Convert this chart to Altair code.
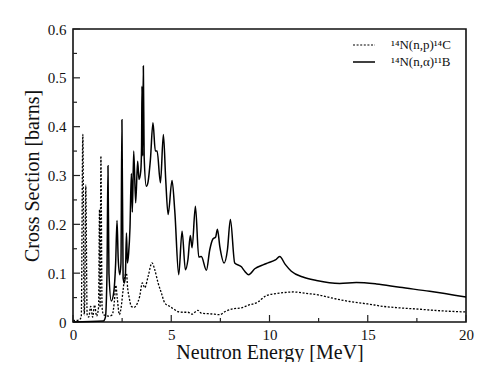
import altair as alt
import pandas as pd

# 14N(n,p)14C  (dotted)
np_energy = [0, 0.3, 0.42, 0.5, 0.57, 0.6, 0.65, 0.72, 0.8, 0.9, 1.0, 1.1, 1.2, 1.3, 1.35, 1.38, 1.42, 1.48,
             1.55, 1.7, 1.85, 2.0, 2.1, 2.18, 2.25, 2.36, 2.45, 2.55, 2.65, 2.72, 2.78, 2.85, 2.97, 3.1, 3.22,
             3.39, 3.53, 3.65, 3.82, 4.02, 4.16, 4.33, 4.5, 4.67, 4.92, 5.18, 5.35, 5.6, 5.85, 6.06, 6.2, 6.36,
             6.53, 6.87, 7.2, 7.47, 7.72, 8.14, 8.57, 8.9, 9.41, 9.84, 10.5, 11.2, 12.0, 12.55, 13.3, 14.08,
             15.0, 15.78, 16.6, 17.48, 18.7, 20.0]
np_sigma = [0.003, 0.004, 0.01, 0.384, 0.015, 0.05, 0.28, 0.015, 0.01, 0.032, 0.01, 0.035, 0.012, 0.03, 0.23,
            0.03, 0.34, 0.03, 0.015, 0.013, 0.012, 0.015, 0.04, 0.075, 0.05, 0.015, 0.03, 0.066, 0.095, 0.1,
            0.07, 0.052, 0.032, 0.03, 0.034, 0.052, 0.08, 0.07, 0.093, 0.121, 0.107, 0.08, 0.059, 0.039, 0.032,
            0.025, 0.021, 0.02, 0.02, 0.016, 0.02, 0.024, 0.018, 0.017, 0.016, 0.015, 0.021, 0.027, 0.029,
            0.034, 0.041, 0.054, 0.059, 0.0615, 0.058, 0.055, 0.048, 0.042, 0.037, 0.032, 0.029, 0.0266,
            0.023, 0.0205]

# 14N(n,alpha)11B  (solid)
na_energy = [0, 1.55, 1.65, 1.73, 1.78, 1.83, 1.95, 2.08, 2.17, 2.24, 2.3, 2.38, 2.44, 2.49, 2.55, 2.62, 2.67,
             2.72, 2.77, 2.83, 2.9, 2.97, 3.02, 3.09, 3.19, 3.29, 3.36, 3.45, 3.49, 3.51, 3.54, 3.58, 3.62,
             3.73, 3.81, 3.94, 4.07, 4.19, 4.28, 4.45, 4.6, 4.72, 4.84, 5.04, 5.18, 5.38, 5.55, 5.72, 5.85,
             5.97, 6.06, 6.23, 6.4, 6.53, 6.79, 6.96, 7.12, 7.26, 7.35, 7.47, 7.69, 7.86, 8.01, 8.23, 8.57,
             8.74, 8.94, 9.25, 9.67, 9.92, 10.3, 10.52, 10.8, 11.11, 11.7, 12.39, 13.57, 14.42, 15.44, 16.63,
             18.15, 20.0]
na_sigma = [0, 0.002, 0.01, 0.1, 0.32, 0.1, 0.043, 0.063, 0.12, 0.208, 0.13, 0.097, 0.12, 0.414, 0.09, 0.08,
            0.1, 0.182, 0.121, 0.14, 0.193, 0.304, 0.225, 0.35, 0.244, 0.329, 0.292, 0.31, 0.36, 0.483, 0.34,
            0.524, 0.34, 0.278, 0.285, 0.333, 0.408, 0.35, 0.35, 0.285, 0.384, 0.29, 0.22, 0.29, 0.227, 0.097,
            0.186, 0.107, 0.128, 0.177, 0.152, 0.237, 0.133, 0.134, 0.106, 0.148, 0.17, 0.174, 0.19, 0.155,
            0.121, 0.148, 0.21, 0.121, 0.113, 0.104, 0.097, 0.109, 0.117, 0.121, 0.127, 0.134, 0.118, 0.104,
            0.092, 0.085, 0.079, 0.081, 0.078, 0.071, 0.063, 0.051]

x_major = [0, 5, 10, 15, 20]
x_minor = [2.5, 7.5, 12.5, 17.5]
y_major = [0.1, 0.2, 0.3, 0.4, 0.5, 0.6]
y_minor = [0.05, 0.15, 0.25, 0.35, 0.45, 0.55]
legend_labels = ["\u00b9\u2074N(n,p)\u00b9\u2074C", "\u00b9\u2074N(n,\u03b1)\u00b9\u00b9B"]

W, H = 393, 293
FONT = "Liberation Serif"

df_np = pd.DataFrame({"E": np_energy, "s": np_sigma})
df_na = pd.DataFrame({"E": na_energy, "s": na_sigma})

xs = alt.Scale(domain=[0, 20], nice=False)
ys = alt.Scale(domain=[0, 0.6], nice=False)

x_axis = alt.Axis(values=x_major, title="Neutron Energy [MeV]", ticks=False, domain=False, grid=False,
                  labelFlush=False, labelPadding=5, titlePadding=0, labelFontSize=15, titleFontSize=20)
y_axis = alt.Axis(values=[0] + y_major, title="Cross Section [barns]", ticks=False, domain=False, grid=False,
                  labelFlush=False, labelPadding=7, titlePadding=5, labelFontSize=15, titleFontSize=20,
                  labelExpr="datum.value == 0 ? '0' : format(datum.value, '.1f')")

line_np = alt.Chart(df_np).mark_line(color="black", strokeWidth=1.3, strokeDash=[2, 1.6],
                                     interpolate="monotone").encode(
    x=alt.X("E:Q", scale=xs, axis=x_axis),
    y=alt.Y("s:Q", scale=ys, axis=y_axis),
)
line_na = alt.Chart(df_na).mark_line(color="black", strokeWidth=1.5, interpolate="monotone").encode(
    x=alt.X("E:Q", scale=xs),
    y=alt.Y("s:Q", scale=ys),
)

def xticks(vals, length):
    return alt.Chart(pd.DataFrame({"t": vals})).mark_rule(color="#222", strokeWidth=1.2).encode(
        x=alt.X("t:Q", scale=xs), y=alt.value(H), y2=alt.value(H - length))

def yticks(vals, length):
    return alt.Chart(pd.DataFrame({"t": vals})).mark_rule(color="#222", strokeWidth=1.2).encode(
        y=alt.Y("t:Q", scale=ys), x=alt.value(0), x2=alt.value(length))

leg = pd.DataFrame({"label": legend_labels})
leg_np = alt.Chart(leg.iloc[[0]]).mark_rule(color="black", strokeWidth=1.2, strokeDash=[2, 1.6]).encode(
    x=alt.value(280), x2=alt.value(302), y=alt.value(16))
leg_na = alt.Chart(leg.iloc[[1]]).mark_rule(color="black", strokeWidth=1.5).encode(
    x=alt.value(280), x2=alt.value(302), y=alt.value(33))
leg_t1 = alt.Chart(leg.iloc[[0]]).mark_text(align="left", baseline="middle", font=FONT, fontSize=13,
                                            color="#111").encode(
    x=alt.value(318), y=alt.value(16), text="label:N")
leg_t2 = alt.Chart(leg.iloc[[1]]).mark_text(align="left", baseline="middle", font=FONT, fontSize=13,
                                            color="#111").encode(
    x=alt.value(318), y=alt.value(33), text="label:N")

chart = alt.layer(
    line_np, line_na,
    xticks(x_major, 7), xticks(x_minor, 4), yticks(y_major, 7), yticks(y_minor, 4),
    leg_np, leg_na, leg_t1, leg_t2,
).properties(
    width=W, height=H,
    autosize=alt.AutoSizeParams(type="none"),
    padding={"left": 65, "top": 21, "right": 10, "bottom": 40},
).configure_view(stroke="#111", strokeWidth=1.6).configure_axis(
    labelFont=FONT, titleFont=FONT, labelColor="#111", titleColor="#111", titleFontWeight="normal"
)

chart.save("out.html", embed_options={"renderer": "svg", "actions": False})
